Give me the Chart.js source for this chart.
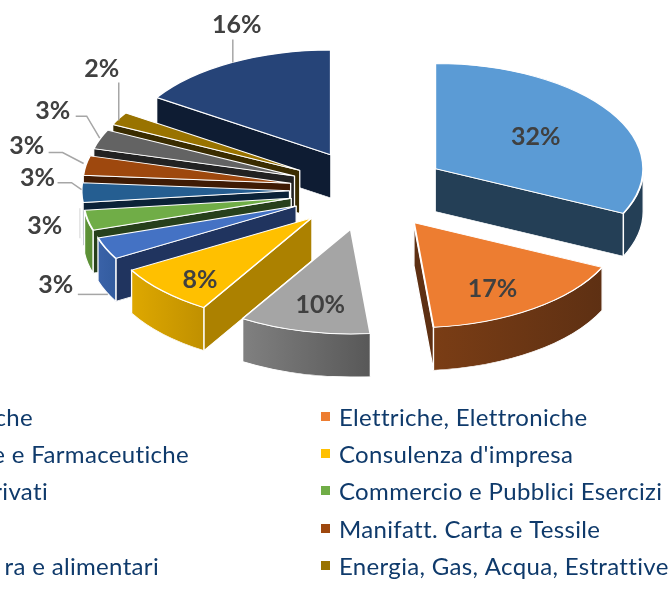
<!DOCTYPE html>
<html>
<head>
<meta charset="utf-8">
<title>Pie</title>
<script src="https://cdn.jsdelivr.net/npm/chart.js@4"></script>
<style>
  html, body { margin: 0; background: #fff; }
  canvas { display: block; }
</style>
</head>
<body>
<canvas id="pieChart" width="669" height="611"></canvas>
<script>
// values, labels show them rounded
const shares = [32, 16.5, 10.2, 8, 3.4, 3.1, 3, 3, 3, 2, 15.8];
// legend text, only what is visible in the crop
const categories = ["che", "Elettriche, Elettroniche", "e e Farmaceutiche", "Consulenza d'impresa", "rivati",
  "Commercio e Pubblici Esercizi", "", "Manifatt. Carta e Tessile", "ra e alimentari", "Energia, Gas, Acqua, Estrattive", ""];

// colours
const topColors = ["#5B9BD5", "#ED7D31", "#A5A5A5", "#FFC000", "#4472C4", "#70AD47", "#255E91", "#9E480E", "#636363", "#997300", "#264478"];
const faceColors = ["#243f56", "#5e3013", "#585858", "#ac8100", "#20345f", "#27401b", "#0b2238", "#3f1b04", "#222222", "#3a2c00", "#0e1c33"];
const rimLeft = ["#243f56", "#7a3d15", "#808080", "#dea800", "#3a62a8", "#5e9437", "#1d4a72", "#6e3209", "#444444", "#6b5000", "#1b3054"];
const rimRight = ["#243f56", "#5e3013", "#585858", "#c09000", "#335c9f", "#5a8c36", "#1d4a72", "#6e3209", "#444444", "#6b5000", "#1b3054"];

// back slices first
const paintOrder = [10, 9, 8, 7, 6, 5, 4, 3, 0, 1, 2];

// 3d look
const squash = 0.505;
const depth = 43;
const explode = 79;

// label position, relative to the slice's rim point
const labelShift = [[-75, 25], [-41, -20], [16, -26], [37, -11], [-50, 37], [-43, 6], [-44, -15], [-59, -20], [-47, -28], [-17, -50], [5, -38]];
// leader lines, same reference point
const leaders = [null, null, null, null,
  [[-28, 46], [2, 46]],
  [[-8, -12], [-8, 18]],
  [[0, -3], [-10, -10], [-24, -10]],
  [[-2, -2], [-23, -13], [-37, -13]],
  [[0, -1], [-13, -23], [-24, -23]],
  [[0, 2], [0, -36]],
  [[1, 0], [1, -23]]];
const leaderColors = ["", "", "", "", "#a6a6a6", "#e3e3e3", "#a6a6a6", "#a6a6a6", "#a6a6a6", "#a6a6a6", "#a6a6a6"];

// legend layout
const legendRows = [417, 454, 491, 529, 566];
const leftEnds = [33, 189, 48, 0, 159];

function drawWalls(ctx, arc, i) {
  const { x, y, startAngle: a0, endAngle: a1, outerRadius: r } = arc;
  const d = depth / squash;
  const walls = [];

  // cut faces, only the ones turned to the viewer
  if (Math.cos(a0) < 0) walls.push([a0, faceColors[i]]);
  if (Math.cos(a1) > 0) walls.push([a1, faceColors[i]]);
  walls.forEach(([a, color]) => {
    const ex = x + Math.cos(a) * r, ey = y + Math.sin(a) * r;
    ctx.beginPath();
    ctx.moveTo(x, y);
    ctx.lineTo(ex, ey);
    ctx.lineTo(ex, ey + d);
    ctx.lineTo(x, y + d);
    ctx.closePath();
    ctx.fillStyle = color;
    ctx.fill();
    ctx.strokeStyle = "#fff";
    ctx.lineWidth = 1.3;
    ctx.stroke();
  });

  // outer rim, front half only
  const from = Math.max(a0, 0), to = Math.min(a1, Math.PI);
  if (to > from) {
    const xa = x + Math.cos(to) * r, xb = x + Math.cos(from) * r;
    const g = ctx.createLinearGradient(xa, 0, xb, 0);
    g.addColorStop(0, rimLeft[i]);
    g.addColorStop(1, rimRight[i]);
    ctx.beginPath();
    ctx.arc(x, y, r, from, to);
    ctx.arc(x, y + d, r, to, from, true);
    ctx.closePath();
    ctx.fillStyle = g;
    ctx.fill();
    ctx.strokeStyle = "#fff";
    ctx.lineWidth = 1.3;
    ctx.stroke();
  }
}

const pie3d = {
  id: "pie3d",
  beforeDatasetDraw(chart, args) {
    const ctx = chart.ctx;
    const arcs = args.meta.data;
    paintOrder.forEach(i => {
      const arc = arcs[i];
      const mid = (arc.startAngle + arc.endAngle) / 2;
      ctx.save();
      ctx.translate(0, arc.y);
      ctx.scale(1, squash);
      ctx.translate(0, -arc.y);
      ctx.translate(Math.cos(mid) * explode, Math.sin(mid) * explode);
      drawWalls(ctx, arc, i);
      arc.draw(ctx);
      ctx.restore();
    });
    return false;
  },
  afterDraw(chart) {
    const ctx = chart.ctx;
    const arcs = chart.getDatasetMeta(0).data;
    ctx.save();

    // percent labels and leaders
    arcs.forEach((arc, i) => {
      const mid = (arc.startAngle + arc.endAngle) / 2;
      const rimX = arc.x + Math.cos(mid) * (explode + arc.outerRadius);
      const rimY = arc.y + Math.sin(mid) * (explode + arc.outerRadius) * squash;
      if (leaders[i]) {
        ctx.beginPath();
        leaders[i].forEach(([dx, dy], n) => {
          if (n === 0) ctx.moveTo(rimX + dx, rimY + dy);
          else ctx.lineTo(rimX + dx, rimY + dy);
        });
        ctx.strokeStyle = leaderColors[i];
        ctx.lineWidth = 1.5;
        ctx.stroke();
      }
      ctx.font = "bold 25px Lato";
      ctx.fillStyle = "#404040";
      ctx.textAlign = "center";
      ctx.textBaseline = "middle";
      ctx.fillText(Math.round(shares[i]) + "%", rimX + labelShift[i][0], rimY + labelShift[i][1]);
    });

    // legend, two columns, left one runs off the page
    ctx.font = "24px Lato";
    ctx.letterSpacing = "0.33px";
    ctx.textBaseline = "middle";
    categories.forEach((name, i) => {
      if (!name) return;
      const row = legendRows[Math.floor(i / 2)];
      ctx.fillStyle = "#0f3a6b";
      if (i % 2 === 0) {
        ctx.textAlign = "right";
        ctx.fillText(name, leftEnds[i / 2], row + 1);
      } else {
        ctx.textAlign = "left";
        ctx.fillText(name, 339, row + 1);
        ctx.fillStyle = topColors[i];
        ctx.fillRect(321, row - 5, 9, 9);
      }
    });
    ctx.restore();
  }
};

new Chart(document.getElementById("pieChart"), {
  type: "pie",
  data: {
    labels: categories,
    datasets: [{
      data: shares,
      backgroundColor: topColors,
      borderColor: "#ffffff",
      borderWidth: 2,
      clip: false
    }]
  },
  options: {
    responsive: false,
    animation: false,
    radius: 208,
    layout: { padding: { left: 68, bottom: 231 } },
    plugins: { legend: { display: false }, tooltip: { enabled: false } }
  },
  plugins: [pie3d]
});
</script>
</body>
</html>
